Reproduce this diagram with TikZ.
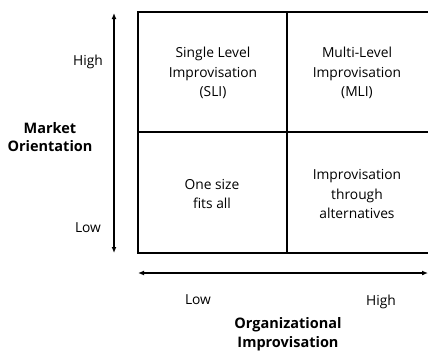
\documentclass[tikz,border=0pt]{standalone}
\usepackage{fontspec}
\setmainfont{Open Sans}
\usetikzlibrary{arrows.meta}
\begin{document}
\begin{tikzpicture}[x=1pt,y=-1pt,
  cell/.style={align=center, font=\fontsize{13.8}{19.5}\selectfont},
  lbl/.style={font=\fontsize{13.8}{19.5}\selectfont},
  axis/.style={align=center, font=\bfseries\fontsize{14.5}{18.5}\selectfont},
  grid/.style={line width=1.8pt},
  arr/.style={line width=1.6pt, {Latex[length=6pt,width=5pt]}-{Latex[length=6pt,width=5pt]}}]
  \useasboundingbox (0,0) rectangle (428,351);

  % the 2x2 matrix, open on the right
  \draw[grid] (428,12) -- (138,12) -- (138,253) -- (428,253);
  \draw[grid] (138,132) -- (428,132);
  \draw[grid] (287,12) -- (287,253);

  \node[cell] (sli) at (213,73) {Single Level\\Improvisation\\(SLI)};
  \node[cell] (mli) at (357,73) {Multi-Level\\Improvisation\\(MLI)};
  \node[cell] (one) at (212,194) {One size\\fits all};
  \node[cell] (alt) at (357,194) {Improvisation\\through\\alternatives};

  % vertical axis
  \coordinate (moTop) at (114,13);
  \coordinate (moBot) at (114,253);
  \draw[arr] (moBot) -- (moTop);
  \node[lbl] (moHigh) at (88,62) {High};
  \node[lbl] (moLow) at (88,228) {Low};
  \node[axis] (mo) at (50,137) {Market\\Orientation};

  % horizontal axis
  \coordinate (oiLeft) at (138,273);
  \coordinate (oiRight) at (428,273);
  \draw[arr] (oiLeft) -- (oiRight);
  \node[lbl] (oiLow) at (198,300) {Low};
  \node[lbl] (oiHigh) at (381,302) {High};
  \node[axis] (oi) at (288,334) {Organizational\\Improvisation};
\end{tikzpicture}
\end{document}
